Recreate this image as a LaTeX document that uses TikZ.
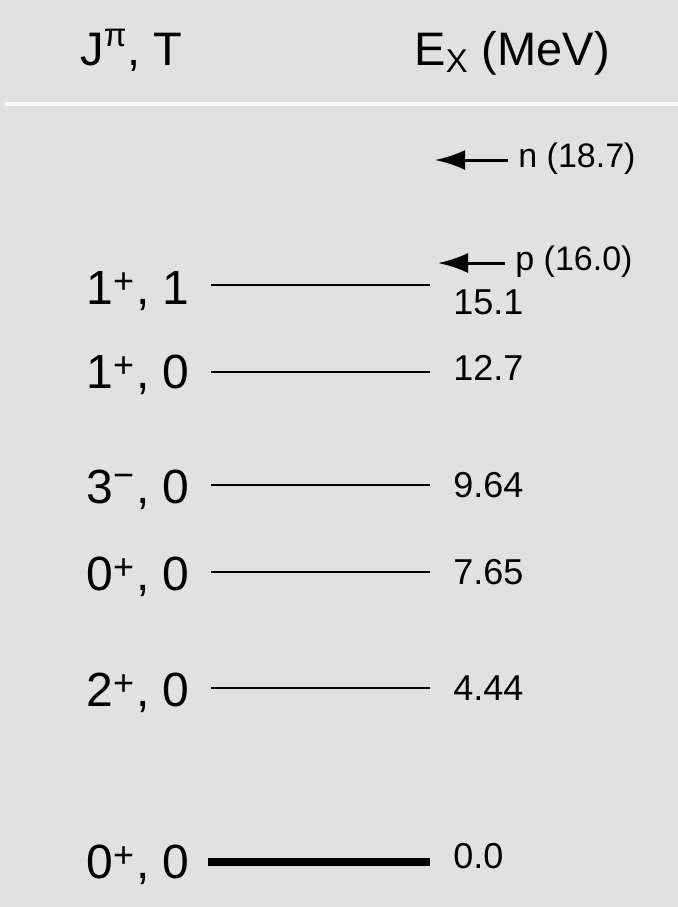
\documentclass[tikz,border=0pt]{standalone}
\usepackage{fontspec}
\setmainfont{Liberation Sans}
\usetikzlibrary{arrows.meta}
\definecolor{panel}{HTML}{E1E1E1}
\newcommand\parity[2][5.5pt]{\raisebox{#1}{\fontsize{18}{18}\selectfont#2}\hspace{1pt}}

\begin{document}
\begin{tikzpicture}[x=0.5pt, y=-0.5pt, >={Latex[length=15pt, width=10pt]},
  head/.style={anchor=base west, inner sep=0pt, font=\fontsize{23.5}{27}\selectfont},
  state/.style={anchor=base east, inner sep=0pt, font=\fontsize{24}{28}\selectfont},
  energy/.style={anchor=base west, inner sep=0pt, font=\fontsize{18}{21}\selectfont},
  thresh/.style={anchor=base west, inner xsep=5pt, inner ysep=0pt, font=\fontsize{17}{20}\selectfont},
  level/.style={line width=1.3pt, black}]
  \fill[panel] (0,0) rectangle (678,907);
  \useasboundingbox (0,0) rectangle (678,907);
  \draw[white, line width=2pt] (5,104) -- (678,104);
  % header
  \node[head] (hjt) at (80,65) {J\textsuperscript{π}, T};
  \node[head] (hex) at (414,65) {E\textsubscript{X} (MeV)};
  % levels
  \draw[level] (211,285) -- (430,285);
  \draw[level] (211,372) -- (430,372);
  \draw[level] (211,485) -- (430,485);
  \draw[level] (211,572) -- (430,572);
  \draw[level] (211,688) -- (430,688);
  \draw[level, line width=4pt] (208,862) -- (430,862);
  \node[state] (s151) at (190,304) {1\parity{+}, 1};
  \node[state] (s127) at (190,388) {1\parity{+}, 0};
  \node[state] (s964) at (190,503) {3\parity[8pt]{−}, 0};
  \node[state] (s765) at (190,590) {0\parity{+}, 0};
  \node[state] (s444) at (190,706) {2\parity{+}, 0};
  \node[state] (s000) at (190,878) {0\parity{+}, 0};
  \node[energy] (e151) at (453,314) {15.1};
  \node[energy] (e127) at (453,380) {12.7};
  \node[energy] (e964) at (453,497) {9.64};
  \node[energy] (e765) at (453,584) {7.65};
  \node[energy] (e444) at (453,700) {4.44};
  \node[energy] (e000) at (453,868) {0.0};
  % thresholds
  \coordinate (ntip) at (435,160);
  \coordinate (ptip) at (438,263);
  \node[thresh] (nthr) at (508,167) {n (18.7)};
  \node[thresh] (pthr) at (505,270) {p (16.0)};
  \draw[->, line width=1.5pt] (nthr.west |- ntip) -- (ntip);
  \draw[->, line width=1.5pt] (pthr.west |- ptip) -- (ptip);
\end{tikzpicture}
\end{document}
